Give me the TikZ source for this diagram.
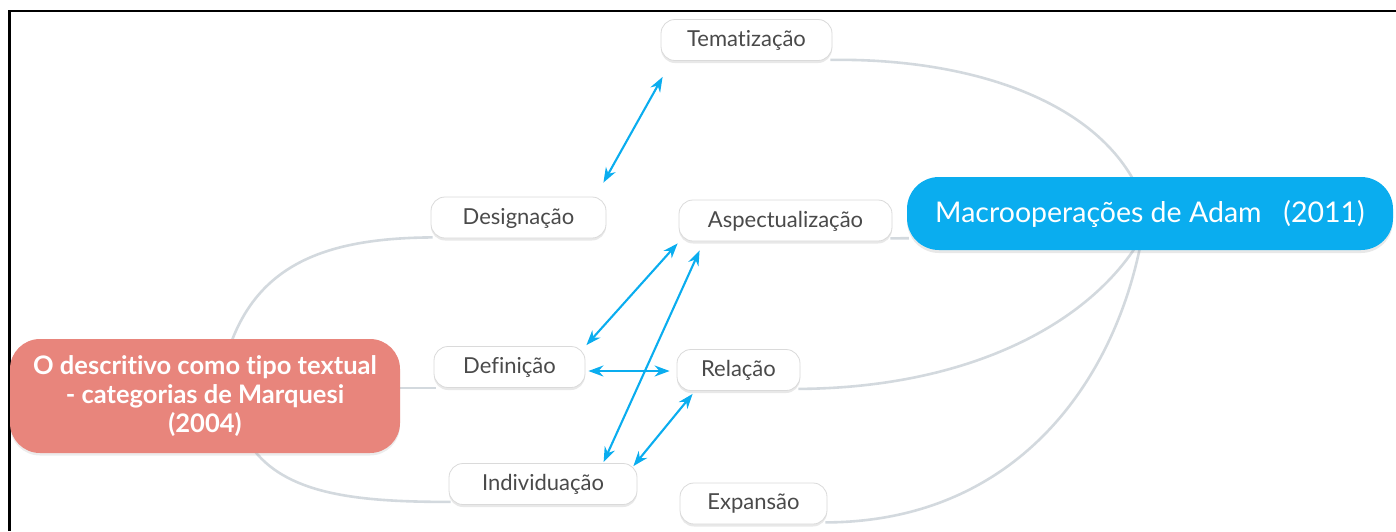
\documentclass[tikz,border=0pt]{standalone}
\usepackage{fontspec}
\setmainfont{Lato}[Ligatures={NoCommon}]
\usetikzlibrary{calc,shadows,backgrounds,arrows.meta}
\definecolor{connc}{HTML}{D3D9DE}
\definecolor{blueA}{HTML}{0AADEF}
\definecolor{redA}{HTML}{E8857C}
\definecolor{txtc}{HTML}{4A4A4A}
\definecolor{boxline}{HTML}{DADADA}
\begin{document}
\begin{tikzpicture}[x=1pt,y=-1pt,
  leaf/.style={draw=boxline, line width=0.8pt, fill=white, rounded corners=14pt,
    minimum height=41pt, inner sep=0pt, text=txtc, text depth=3pt,
    font=\fontsize{22}{25}\selectfont,
    drop shadow={opacity=0.18, shadow xshift=0pt, shadow yshift=-2.5pt}},
  conn/.style={draw=connc, line width=2.6pt},
  link/.style={draw=blueA, line width=2.1pt, {Stealth[length=15pt,width=11pt]}-{Stealth[length=15pt,width=11pt]}}
]
\useasboundingbox (0,0) rectangle (1396,531);
\draw[line width=2.5pt, black] (9.5,531) -- (9.5,11) -- (1396,11);

% main nodes
\node[fill=redA, rounded corners=30pt, minimum width=390pt, minimum height=114pt,
  text=white, align=center, font=\bfseries\fontsize{25.5}{29}\selectfont,
  drop shadow={opacity=0.15, shadow xshift=0pt, shadow yshift=-2.5pt}]
  (red) at (205,396) {O descritivo como tipo textual\\- categorias de Marquesi\\(2004)};
\node[fill=blueA, rounded corners=32pt, minimum width=486pt, minimum height=73pt,
  text=white, font=\fontsize{28.5}{32}\selectfont,
  drop shadow={opacity=0.18, shadow xshift=0pt, shadow yshift=-3pt}]
  (macro) at (1150,213.5) {Macrooperações de Adam\ \ \ (2011)};

% leaves
\node[leaf, minimum width=171pt] (temat)  at (746.5,40)  {Tematização};
\node[leaf, minimum width=175pt] (desig)  at (518.5,217.5) {Designação};
\node[leaf, minimum width=213pt] (aspect) at (785.5,220.5) {Aspectualização};
\node[leaf, minimum width=151pt] (def)    at (509.5,367)  {Definição};
\node[leaf, minimum width=123pt] (rel)    at (738.5,370)  {Relação};
\node[leaf, minimum width=188pt] (indiv)  at (543,484)  {Individuação};
\node[leaf, minimum width=147pt] (exp)    at (753.5,503.5) {Expansão};

% connectors
\begin{scope}[on background layer]
\draw[conn] ($(red.north west)+(222,2)$) .. controls (262,262) and (330,238) .. ($(desig.south west)+(2,-1)$);
\draw[conn] ($(red.east)+(-2,-8)$) -- ($(def.west)+(2,21)$);
\draw[conn] ($(red.south west)+(245,-2)$) .. controls (290,495) and (360,502) .. ($(indiv.south west)+(2,-3)$);
\draw[conn] ($(macro.north west)+(226,2)$) .. controls (1085,95) and (960,58) .. ($(temat.south east)+(-2,-1)$);
\draw[conn] ($(aspect.south east)+(-2,-3)$) -- ($(macro.south west)+(2,-12)$);
\draw[conn] ($(macro.south west)+(228,-2)$) .. controls (1080,330) and (960,388) .. ($(rel.south east)+(-2,-2)$);
\draw[conn] ($(macro.south west)+(233,-2)$) .. controls (1110,390) and (1010,522) .. ($(exp.south east)+(-2,-2)$);
\end{scope}

% cross links
\draw[link] ($(desig.north east)+(-3,-14)$) -- ($(temat.south west)+(2,16)$);
\draw[link] ($(def.north east)+(1,-1)$) -- ($(aspect.south west)+(-1,2)$);
\draw[link] ($(def.east)+(3,4)$) -- ($(rel.west)+(-7,1)$);
\draw[link] ($(indiv.north west)+(155,-1)$) -- ($(aspect.south west)+(21,9)$);
\draw[link] ($(indiv.north east)+(-4,3)$) -- ($(rel.south west)+(16,3)$);
\end{tikzpicture}
\end{document}
